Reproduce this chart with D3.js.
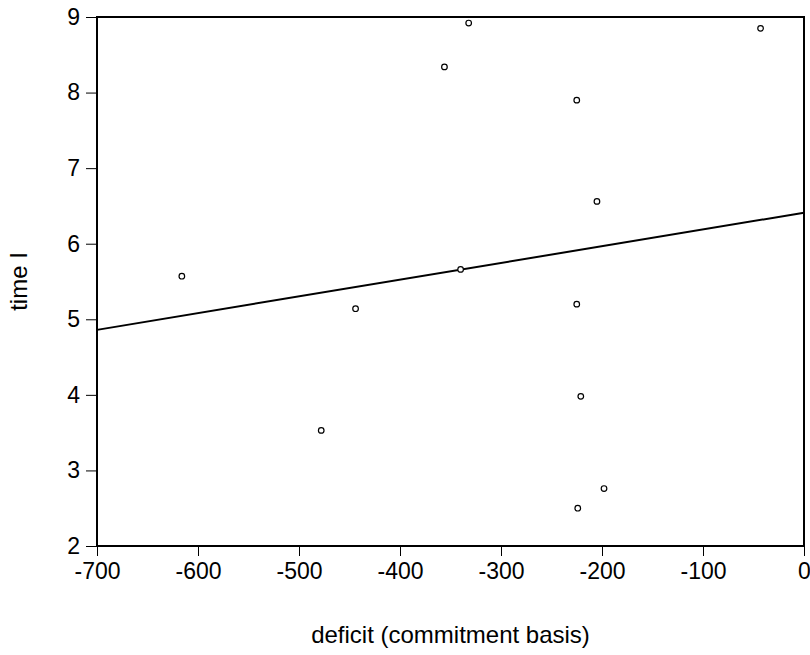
<!DOCTYPE html>
<html>
<head>
<meta charset="utf-8">
<script src="https://cdn.jsdelivr.net/npm/d3@7"></script>
<style>
  body { margin: 0; background: #fff; }
  text { font-family: "Liberation Sans", Arial, sans-serif; fill: #000; }
</style>
</head>
<body>
<svg width="810" height="655"></svg>
<script>
// scatter values
var deficit = [-616, -332, -356, -225, -43, -205, -340, -444, -225, -221, -478, -198, -224];
var timeI   = [5.57, 8.92, 8.34, 7.90, 8.85, 6.56, 5.66, 5.14, 5.20, 3.98, 3.53, 2.76, 2.50];

// fitted line, end points
var fitX = [-700, 0];
var fitY = [4.86, 6.41];

var xTicks = [-700, -600, -500, -400, -300, -200, -100, 0];
var yTicks = [2, 3, 4, 5, 6, 7, 8, 9];

var svg = d3.select("svg"),
    mLeft = 97, mRight = 804, mTop = 17, mBottom = 546;

var x = d3.scaleLinear().domain([-700, 0]).range([mLeft, mRight]);
var y = d3.scaleLinear().domain([2, 9]).range([mBottom, mTop]);

// axes
var xAxis = svg.append("g")
    .attr("transform", "translate(0," + mBottom + ")")
    .call(d3.axisBottom(x).tickValues(xTicks).tickSize(10).tickPadding(7)
        .tickFormat(function(d) { return String(d); }));
var yAxis = svg.append("g")
    .attr("transform", "translate(" + mLeft + ",0)")
    .call(d3.axisLeft(y).tickValues(yTicks).tickSize(11).tickPadding(6)
        .tickFormat(function(d) { return String(d); }));

[xAxis, yAxis].forEach(function(a) {
    a.select(".domain").remove();
    a.selectAll("line").attr("stroke", "#000");
    a.selectAll("text").style("font-size", "23px").attr("fill", "#000");
});

// frame
svg.append("rect")
    .attr("x", mLeft).attr("y", mTop)
    .attr("width", mRight - mLeft).attr("height", mBottom - mTop)
    .attr("fill", "none").attr("stroke", "#000").attr("stroke-width", 2);

// regression line
var line = d3.line()
    .x(function(d, i) { return x(fitX[i]); })
    .y(function(d) { return y(d); });
svg.append("path")
    .attr("d", line(fitY))
    .attr("fill", "none").attr("stroke", "#000").attr("stroke-width", 2);

// points
svg.selectAll(".pt")
    .data(deficit)
    .enter().append("circle")
    .attr("class", "pt")
    .attr("cx", function(d) { return x(d); })
    .attr("cy", function(d, i) { return y(timeI[i]); })
    .attr("r", 2.8)
    .attr("fill", "#fff").attr("stroke", "#000").attr("stroke-width", 1.2);

// axis titles
svg.append("text")
    .attr("x", (mLeft + mRight) / 2).attr("y", 643)
    .attr("text-anchor", "middle")
    .style("font-size", "24px")
    .text("deficit (commitment basis)");

svg.append("text")
    .attr("transform", "translate(27," + (mTop + mBottom) / 2 + ") rotate(-90)")
    .attr("text-anchor", "middle")
    .style("font-size", "24px")
    .text("time I");
</script>
</body>
</html>
